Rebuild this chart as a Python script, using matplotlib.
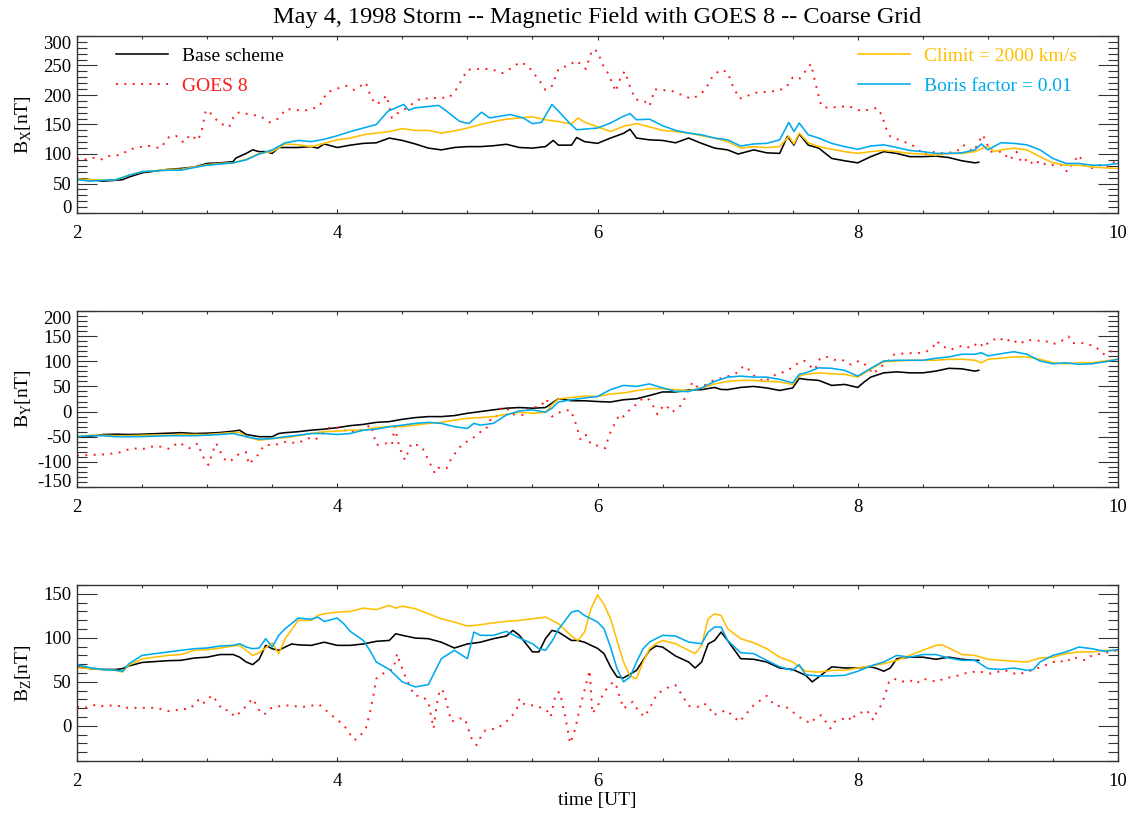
import matplotlib
matplotlib.use("Agg")
import matplotlib.pyplot as plt
from matplotlib.ticker import MultipleLocator

plt.rcParams['font.family'] = ['Liberation Serif', 'DejaVu Serif']
plt.rcParams['mathtext.fontset'] = 'custom'
plt.rcParams['mathtext.rm'] = 'Liberation Serif'
plt.rcParams['axes.unicode_minus'] = False

# colours of the four runs
c_base = 'black'
c_goes = '#ff1a1a'
c_clim = '#ffbf00'
c_boris = '#00aaee'

# ---------------- Bx panel (time [h], nT) ----------------
bx_base = [(2.0, 58), (2.1, 56.5), (2.2, 54), (2.3, 55.5), (2.35, 56.5), (2.4, 61), (2.5, 68), (2.6, 71),
           (2.7, 74), (2.8, 75.5), (2.9, 78), (3.0, 84), (3.1, 85), (3.2, 87), (3.22, 93), (3.3, 101),
           (3.35, 107), (3.4, 104), (3.45, 104), (3.5, 101), (3.55, 111), (3.6, 111), (3.7, 111),
           (3.8, 112.5), (3.85, 110), (3.9, 117), (4.0, 111), (4.1, 115), (4.2, 118), (4.3, 119),
           (4.4, 127), (4.5, 123), (4.6, 117), (4.7, 110), (4.8, 107), (4.9, 111), (5.0, 112.5),
           (5.1, 112.5), (5.2, 114), (5.3, 116.5), (5.4, 111), (5.5, 110), (5.6, 112.5), (5.66, 123),
           (5.7, 115), (5.8, 115), (5.84, 128), (5.9, 121), (6.0, 118), (6.1, 127), (6.2, 135),
           (6.25, 142), (6.3, 127), (6.4, 124), (6.5, 123), (6.6, 119), (6.7, 127), (6.8, 118),
           (6.9, 110), (7.0, 107), (7.08, 100), (7.1, 101), (7.2, 107), (7.3, 102), (7.4, 101),
           (7.46, 130), (7.51, 115), (7.55, 134), (7.62, 115), (7.7, 110), (7.8, 92.5), (7.9, 88.5),
           (8.0, 85), (8.1, 95.5), (8.2, 104), (8.3, 101), (8.4, 95.5), (8.5, 95.5), (8.6, 96.5),
           (8.7, 94), (8.8, 88.5), (8.9, 85), (8.93, 86)]
bx_goes = [(2.00, 92.6), (2.04, 88.6), (2.10, 94.3), (2.19, 90.9), (2.24, 96.6), (2.33, 98.3),
           (2.41, 108), (2.50, 112.6), (2.55, 113.7), (2.64, 109.7), (2.71, 129.7), (2.76, 130.9),
           (2.82, 119.4), (2.87, 132.6), (2.93, 122.9), (2.96, 141.1), (2.99, 174.3), (3.04, 166.9),
           (3.09, 152.6), (3.17, 145.7), (3.21, 166.9), (3.25, 170.9), (3.33, 166.9), (3.41, 164),
           (3.48, 153.7), (3.54, 159.4), (3.61, 176.6), (3.67, 174.3), (3.77, 174.3), (3.86, 180),
           (3.92, 204), (4.00, 210.9), (4.07, 215.4), (4.13, 208.6), (4.22, 221.1), (4.26, 195.4),
           (4.30, 184), (4.34, 189.7), (4.38, 199.4), (4.42, 161.1), (4.46, 168.6), (4.51, 174.3),
           (4.55, 181.1), (4.65, 195.4), (4.70, 193.7), (4.78, 195.4), (4.86, 195.4), (4.92, 210.9),
           (5.00, 242.9), (5.09, 244), (5.18, 244), (5.27, 237.1), (5.35, 246.9), (5.40, 255.4),
           (5.46, 250.9), (5.55, 225.7), (5.60, 208.6), (5.65, 215.4), (5.70, 244), (5.77, 249.7),
           (5.84, 258.3), (5.91, 244), (5.96, 277.1), (6.00, 274.3), (6.04, 251.4), (6.08, 237.1),
           (6.12, 217.1), (6.14, 205.7), (6.18, 231.4), (6.21, 240), (6.25, 214.3), (6.29, 192.6),
           (6.36, 189.7), (6.40, 181.1), (6.44, 209.7), (6.57, 206.9), (6.72, 193.7), (6.78, 199.4),
           (6.83, 209.7), (6.89, 233.7), (6.95, 242.9), (7.00, 238.3), (7.04, 215.4), (7.09, 193.7),
           (7.22, 204), (7.38, 206.9), (7.45, 212.6), (7.50, 229.7), (7.55, 226.9), (7.59, 238.3),
           (7.64, 252.6), (7.68, 215.4), (7.72, 181.1), (7.77, 178.3), (7.93, 181.1), (8.03, 172.6),
           (8.15, 178.3), (8.19, 164), (8.21, 146.9), (8.25, 129.7), (8.37, 119.4), (8.44, 112.6),
           (8.51, 98.3), (8.55, 104), (8.66, 101.1), (8.76, 104), (8.81, 115.4), (8.89, 104),
           (8.96, 132.6), (8.98, 124), (9.02, 104), (9.11, 104), (9.17, 89.7), (9.22, 104),
           (9.26, 85.1), (9.31, 92.6), (9.35, 81.1), (9.40, 88.6), (9.45, 81.1), (9.57, 81.1),
           (9.61, 69.7), (9.65, 84), (9.70, 98.3), (9.74, 81.1), (9.79, 75.4), (9.86, 81.1),
           (9.91, 77.1), (9.96, 86.9), (10.00, 81.1)]
bx_clim = [(2.0, 58), (2.1, 56.5), (2.2, 55.5), (2.3, 56.5), (2.4, 64), (2.5, 70), (2.6, 71.5), (2.7, 74),
           (2.8, 74), (2.9, 78), (3.0, 82), (3.1, 84), (3.2, 85), (3.3, 91), (3.4, 101), (3.5, 104),
           (3.6, 117), (3.7, 115.5), (3.8, 112.5), (3.9, 118), (4.0, 124), (4.1, 127), (4.2, 132.5),
           (4.3, 135.5), (4.4, 138), (4.5, 143), (4.6, 140), (4.7, 140), (4.8, 135.5), (4.9, 139),
           (5.0, 144), (5.1, 150), (5.2, 155), (5.3, 159), (5.4, 161), (5.5, 163), (5.6, 158),
           (5.7, 155), (5.8, 151), (5.85, 161), (5.9, 154), (6.0, 146), (6.1, 138), (6.2, 147),
           (6.3, 151.5), (6.4, 146), (6.5, 140), (6.6, 138), (6.7, 135.5), (6.8, 131), (6.9, 127),
           (7.0, 121), (7.1, 110), (7.2, 112.5), (7.3, 111), (7.4, 112.5), (7.47, 130), (7.51, 117),
           (7.55, 135.5), (7.62, 119), (7.7, 112.5), (7.8, 108), (7.9, 104), (8.0, 101), (8.1, 104),
           (8.2, 106), (8.3, 104), (8.4, 101), (8.5, 100), (8.6, 98), (8.7, 101), (8.8, 101),
           (8.9, 104), (9.0, 113), (9.05, 104), (9.1, 107), (9.2, 110), (9.3, 107), (9.4, 95.5),
           (9.5, 85), (9.6, 81), (9.7, 81), (9.8, 78), (9.9, 76.5), (10.0, 75.5)]
bx_boris = [(2.0, 56.5), (2.1, 54), (2.2, 55.5), (2.3, 56.5), (2.4, 64), (2.5, 70), (2.6, 71.5),
            (2.7, 72.5), (2.8, 72.5), (2.9, 77), (3.0, 81), (3.1, 83), (3.2, 85), (3.3, 90), (3.4, 100),
            (3.5, 107), (3.6, 119), (3.7, 123), (3.8, 121), (3.9, 125), (4.0, 131), (4.1, 138),
            (4.2, 144), (4.30, 150), (4.39, 172.6), (4.51, 184), (4.55, 174.3), (4.60, 178.3),
            (4.78, 182.3), (4.83, 174.3), (4.94, 155.4), (5.01, 151.4), (5.11, 170.9), (5.17, 161.1),
            (5.33, 166.9), (5.43, 161.1), (5.50, 151.4), (5.57, 153.7), (5.65, 184), (5.70, 172.6),
            (5.79, 151.4), (5.84, 141.1), (6.0, 144), (6.1, 152.5), (6.2, 164), (6.25, 168.5),
            (6.3, 158), (6.4, 159), (6.5, 148), (6.6, 140), (6.7, 135.5), (6.8, 132.5), (6.9, 127),
            (7.0, 124), (7.1, 113.5), (7.2, 117), (7.3, 118), (7.4, 124), (7.47, 153.5), (7.51, 138),
            (7.55, 152.5), (7.62, 132.5), (7.7, 127), (7.8, 118), (7.9, 112.5), (8.0, 108),
            (8.1, 113.5), (8.2, 115.5), (8.3, 111), (8.4, 106), (8.5, 104), (8.6, 101), (8.7, 101),
            (8.8, 102), (8.9, 107), (8.95, 117), (9.0, 107), (9.1, 119), (9.2, 118), (9.3, 115.5),
            (9.4, 107), (9.5, 92.5), (9.6, 84), (9.7, 84), (9.8, 81), (9.9, 81), (10.0, 84)]

# ---------------- By panel ----------------
by_base = [(2.0, -50), (2.1, -49), (2.2, -45.6), (2.3, -45), (2.4, -45.6), (2.5, -45), (2.6, -44),
           (2.7, -43), (2.8, -42), (2.9, -43.6), (3.0, -43), (3.1, -41.6), (3.2, -39), (3.25, -37),
           (3.3, -45.6), (3.4, -50), (3.5, -50), (3.55, -43.6), (3.6, -42), (3.7, -40), (3.8, -37),
           (3.9, -35), (4.0, -32), (4.1, -28), (4.2, -25.5), (4.3, -21.5), (4.4, -20), (4.5, -15.4),
           (4.6, -12), (4.7, -10), (4.8, -10), (4.9, -8), (5.0, -3.4), (5.1, 0), (5.2, 3.4),
           (5.3, 6.7), (5.4, 8), (5.5, 6.7), (5.6, 8), (5.65, 16.8), (5.7, 25.5), (5.8, 21.5),
           (5.9, 21.5), (6.0, 20), (6.1, 19), (6.2, 23.5), (6.3, 25.5), (6.4, 32), (6.5, 39),
           (6.6, 39), (6.7, 43), (6.8, 43.6), (6.9, 48), (6.95, 44), (7.0, 43.6), (7.1, 48),
           (7.2, 50), (7.3, 47), (7.4, 42), (7.5, 47), (7.55, 66), (7.6, 64), (7.7, 62), (7.8, 52),
           (7.9, 54), (8.0, 48), (8.05, 59), (8.1, 68.5), (8.2, 77), (8.3, 79), (8.4, 77), (8.5, 77),
           (8.6, 80.5), (8.7, 86), (8.8, 85), (8.9, 80.5), (8.93, 82)]
by_goes = [(2.00, -87.6), (2.10, -86.3), (2.23, -85), (2.33, -81), (2.42, -73), (2.51, -74.4),
           (2.56, -69.7), (2.65, -69.7), (2.71, -74.4), (2.78, -61.1), (2.86, -73), (2.93, -63.1),
           (2.96, -86.3), (3.01, -106.2), (3.06, -67.7), (3.07, -63.1), (3.12, -89.6), (3.15, -99.6),
           (3.19, -96.3), (3.25, -83), (3.30, -81), (3.32, -104.9), (3.39, -86.3), (3.44, -66.4),
           (3.52, -66.4), (3.61, -59.8), (3.69, -63.1), (3.78, -53.1), (3.83, -56.4), (3.89, -43.2),
           (3.94, -31.9), (4.03, -31.9), (4.08, -41.2), (4.18, -37.2), (4.26, -26.6), (4.30, -66.4),
           (4.38, -63.1), (4.42, -66.4), (4.44, -29.9), (4.48, -73), (4.52, -96.3), (4.57, -63.1),
           (4.65, -69.7), (4.70, -96.3), (4.75, -122.8), (4.78, -111.6), (4.84, -112.9),
           (4.88, -91.6), (4.96, -65.1), (5.04, -53.1), (5.11, -38.5), (5.14, -36.5), (5.18, -14.6),
           (5.22, -12), (5.26, 6.6), (5.30, 8), (5.34, -5.3), (5.43, -6.6), (5.48, 8), (5.56, 10),
           (5.61, 25.2), (5.65, -10), (5.73, 1.3), (5.79, 3.3), (5.82, -13.3), (5.84, -29.9),
           (5.87, -56.4), (5.91, -46.5), (5.95, -65.1), (6.00, -67.7), (6.06, -73), (6.09, -46.5),
           (6.13, -25.2), (6.17, -5.3), (6.20, -10), (6.23, 0), (6.27, 6.6), (6.31, 18.6),
           (6.36, 27.9), (6.40, 23.2), (6.43, 10), (6.46, -5.3), (6.51, 13.3), (6.55, 6.6),
           (6.57, -1.3), (6.61, 5.3), (6.65, 14.6), (6.69, 38.5), (6.73, 58.4), (6.76, 49.8),
           (6.83, 53.1), (6.87, 59.8), (6.95, 66.4), (7.04, 73), (7.08, 78.4), (7.11, 87.6),
           (7.15, 89.6), (7.17, 79.7), (7.21, 69.7), (7.29, 58.4), (7.33, 69.7), (7.41, 76.4),
           (7.49, 86.3), (7.55, 98.3), (7.59, 100.9), (7.63, 91.6), (7.67, 83), (7.71, 104.9),
           (7.75, 109.6), (7.82, 102.9), (7.88, 102.9), (7.95, 93), (8.01, 100.9), (8.06, 93),
           (8.12, 74.4), (8.16, 86.3), (8.23, 98.3), (8.27, 112.9), (8.37, 116.2), (8.46, 116.2),
           (8.53, 119.5), (8.58, 129.5), (8.61, 140.8), (8.63, 132.8), (8.71, 122.8), (8.81, 131.5),
           (8.87, 126.2), (8.93, 138.1), (8.97, 127.5), (9.01, 139.4), (9.09, 147.4), (9.13, 138.1),
           (9.18, 144.8), (9.24, 134.1), (9.30, 142.8), (9.37, 140.8), (9.44, 140.8), (9.50, 134.1),
           (9.56, 139.4), (9.62, 149.4), (9.65, 136.1), (9.73, 136.1), (9.83, 129.5), (9.86, 119.5),
           (9.90, 112.9), (9.94, 119.5), (10.00, 120.9)]
by_clim = [(2.0, -50), (2.1, -47), (2.2, -47), (2.3, -48), (2.4, -48), (2.5, -47), (2.6, -47), (2.7, -47),
           (2.8, -45.6), (2.9, -45.6), (3.0, -45.6), (3.1, -43.6), (3.2, -41.6), (3.25, -41.6),
           (3.3, -50), (3.4, -57), (3.5, -53.7), (3.6, -52), (3.7, -48), (3.8, -43.6), (3.9, -40),
           (4.0, -39), (4.1, -37), (4.2, -37), (4.3, -32), (4.4, -30), (4.5, -30), (4.6, -27),
           (4.7, -23.5), (4.8, -21.5), (4.9, -17), (5.0, -13.4), (5.1, -12), (5.2, -10), (5.3, -5.4),
           (5.4, -1.3), (5.5, -3.4), (5.6, -1.3), (5.65, 13.4), (5.7, 25), (5.8, 28), (5.9, 31),
           (6.0, 30), (6.1, 35), (6.2, 37), (6.3, 41.6), (6.4, 45.6), (6.5, 45.6), (6.6, 43.6),
           (6.7, 41.6), (6.8, 47), (6.9, 55), (7.0, 60), (7.1, 62), (7.2, 62), (7.3, 60), (7.4, 59),
           (7.5, 53.7), (7.55, 70.5), (7.6, 74), (7.7, 77), (7.8, 75), (7.9, 74), (8.0, 68.5),
           (8.1, 84), (8.2, 99), (8.3, 100.7), (8.4, 102), (8.5, 102), (8.6, 102), (8.7, 104),
           (8.8, 104), (8.9, 102), (8.95, 97), (9.0, 104), (9.1, 106), (9.2, 108.7), (9.3, 108.7),
           (9.4, 104), (9.5, 97), (9.6, 95), (9.7, 97), (9.8, 97), (9.9, 100.7), (10.0, 104)]
by_boris = [(2.0, -50), (2.1, -48), (2.2, -48), (2.3, -50), (2.4, -50), (2.5, -49.7), (2.6, -49),
            (2.7, -48), (2.8, -48), (2.9, -48), (3.0, -47), (3.1, -45.6), (3.2, -43.6), (3.3, -50),
            (3.4, -55), (3.5, -53.7), (3.6, -50), (3.7, -47), (3.8, -43.6), (3.9, -43.6), (4.0, -45.6),
            (4.1, -43.6), (4.2, -37), (4.3, -35), (4.4, -30), (4.5, -27), (4.6, -23.5), (4.7, -21.5),
            (4.8, -23.5), (4.9, -30), (5.0, -33.6), (5.05, -23.5), (5.1, -27), (5.2, -23.5),
            (5.3, -6.7), (5.4, 1.3), (5.5, 3.4), (5.6, -1.3), (5.65, 6.7), (5.7, 19), (5.8, 23.5),
            (5.9, 27), (6.0, 30), (6.1, 43.6), (6.2, 52), (6.3, 50), (6.4, 55), (6.5, 47), (6.6, 40),
            (6.7, 40), (6.8, 47), (6.9, 60), (7.0, 68.5), (7.1, 70.5), (7.2, 68.5), (7.3, 68.5),
            (7.4, 64), (7.5, 57), (7.55, 74), (7.6, 77), (7.7, 87), (7.8, 86), (7.9, 82), (8.0, 70.5),
            (8.1, 86), (8.2, 100.7), (8.3, 102), (8.4, 102), (8.5, 102), (8.6, 106), (8.7, 108.7),
            (8.8, 114), (8.9, 114), (8.95, 117), (9.0, 110.7), (9.1, 115), (9.2, 119), (9.3, 114),
            (9.4, 100.7), (9.5, 95), (9.6, 97), (9.7, 94), (9.8, 95), (9.9, 99), (10.0, 104)]

# ---------------- Bz panel ----------------
bz_base = [(2.0, 67), (2.1, 65), (2.2, 64), (2.3, 64), (2.35, 65), (2.4, 68), (2.5, 72), (2.6, 73),
           (2.7, 74), (2.8, 74.4), (2.9, 77), (3.0, 78), (3.1, 81), (3.2, 81), (3.25, 78), (3.3, 72.5),
           (3.35, 69.5), (3.4, 75.6), (3.45, 91.4), (3.5, 87.6), (3.55, 85.8), (3.6, 89.5),
           (3.65, 93), (3.7, 92), (3.8, 91.4), (3.9, 95), (4.0, 91.4), (4.1, 91.4), (4.2, 93),
           (4.3, 96), (4.4, 97), (4.45, 104.6), (4.5, 102.8), (4.6, 99.7), (4.7, 99), (4.8, 95),
           (4.9, 88.4), (5.0, 93), (5.1, 95), (5.2, 99), (5.3, 102), (5.35, 108.4), (5.4, 102.8),
           (5.5, 84), (5.55, 84), (5.6, 99), (5.65, 108.4), (5.7, 106.5), (5.8, 97), (5.85, 97),
           (5.9, 95), (6.0, 88), (6.05, 82), (6.1, 67), (6.15, 55.5), (6.2, 54.4), (6.3, 63),
           (6.35, 74.4), (6.4, 85.8), (6.45, 90.7), (6.5, 89.5), (6.6, 79.3), (6.7, 72.5),
           (6.75, 65.7), (6.8, 72.5), (6.85, 93), (6.9, 97), (6.95, 106.5), (7.0, 97), (7.1, 76.3),
           (7.2, 75.6), (7.3, 72.5), (7.4, 65.7), (7.5, 64), (7.6, 57.4), (7.65, 49.9), (7.7, 55.5),
           (7.8, 67), (7.9, 65.7), (8.0, 65.7), (8.1, 67), (8.15, 65), (8.2, 62), (8.25, 65.7),
           (8.3, 76.3), (8.4, 78), (8.5, 78), (8.6, 75.6), (8.7, 78), (8.8, 75.6), (8.9, 74.4),
           (8.93, 74.4)]
bz_goes = [(2.00, 21.5), (2.06, 20.4), (2.15, 24.2), (2.20, 22.3), (2.29, 23.4), (2.39, 20.4),
           (2.52, 20.4), (2.61, 20.4), (2.71, 16.6), (2.81, 18.9), (2.87, 19.6), (2.93, 29.1),
           (2.96, 24.2), (3.04, 34.8), (3.12, 17.8), (3.17, 17.8), (3.21, 10.2), (3.26, 15.9),
           (3.35, 31.0), (3.41, 15.1), (3.44, 12.8), (3.48, 19.6), (3.59, 23.4), (3.74, 21.5),
           (3.86, 24.2), (3.95, 12.8), (4.05, 0.8), (4.13, -16.2), (4.16, -14.4), (4.22, -3.0),
           (4.25, 14.0), (4.28, 36.6), (4.30, 53.6), (4.37, 61.2), (4.43, 64.2), (4.46, 82.0),
           (4.48, 72.5), (4.53, 53.6), (4.59, 34.8), (4.66, 32.9), (4.70, 27.2), (4.74, -3.0),
           (4.77, 29.1), (4.79, 41.6), (4.82, 38.5), (4.86, 14.0), (4.88, 4.5), (4.92, 8.3),
           (4.98, 8.3), (5.03, -13.6), (5.07, -21.9), (5.11, -10.6), (5.14, -4.9), (5.23, -3.0),
           (5.33, 8.3), (5.38, 19.6), (5.40, 31.0), (5.44, 24.2), (5.53, 22.7), (5.61, 17.8),
           (5.64, 10.2), (5.68, 36.6), (5.71, 38.5), (5.75, 12.1), (5.79, -20.0), (5.83, -3.0),
           (5.86, 17.8), (5.90, 40.4), (5.94, 63.1), (5.96, 14.0), (6.00, 22), (6.05, 38.5),
           (6.12, 49.9), (6.14, 48.0), (6.17, 32.9), (6.20, 19.6), (6.23, 22.7), (6.27, 27.2),
           (6.31, 17.8), (6.36, 10.2), (6.40, 19.6), (6.46, 36.6), (6.55, 44.2), (6.60, 46.1),
           (6.65, 34.8), (6.70, 22.7), (6.77, 21.5), (6.81, 25.3), (6.85, 23.4), (6.89, 12.1),
           (6.99, 17.8), (7.09, 4.5), (7.20, 23.4), (7.30, 34.0), (7.36, 23.4), (7.46, 20.4),
           (7.56, 9.1), (7.64, 2.6), (7.67, 8.3), (7.72, 12.1), (7.79, -3.0), (7.82, 4.5),
           (7.93, 10.2), (7.95, 5.3), (7.98, 12.1), (8.07, 17.8), (8.12, 6.4), (8.14, 14.0),
           (8.18, 23.4), (8.21, 34.8), (8.24, 49.9), (8.28, 53.6), (8.33, 49.9), (8.40, 51.8),
           (8.45, 48.0), (8.50, 53.6), (8.61, 49.9), (8.66, 53.6), (8.76, 56.7), (8.81, 59.3),
           (8.92, 62.0), (9.02, 59.3), (9.13, 63.1), (9.23, 58.2), (9.34, 63.1), (9.44, 68.8),
           (9.54, 74.4), (9.60, 71.8), (9.65, 78.2), (9.75, 74.4), (9.80, 80.1), (9.91, 83.1),
           (10.00, 85.8)]
bz_clim = [(2.0, 66), (2.1, 65), (2.2, 64), (2.3, 63), (2.35, 61), (2.4, 69), (2.5, 76), (2.6, 78),
           (2.7, 80), (2.8, 81), (2.9, 85.8), (3.0, 86.5), (3.1, 88.4), (3.2, 90.7), (3.25, 91.4),
           (3.3, 85.8), (3.35, 80), (3.4, 83), (3.5, 94.4), (3.55, 82), (3.6, 99), (3.7, 119.8),
           (3.8, 119.8), (3.85, 125.4), (3.9, 127.3), (4.0, 129.2), (4.1, 130), (4.2, 133.7),
           (4.3, 132), (4.4, 136.8), (4.45, 133.7), (4.5, 136), (4.6, 133), (4.7, 127.3),
           (4.8, 121.6), (4.9, 117.9), (5.0, 113.3), (5.1, 114.8), (5.2, 117), (5.3, 118.6),
           (5.4, 119.8), (5.5, 121.6), (5.6, 123.5), (5.7, 116), (5.8, 102), (5.85, 97), (5.9, 106.5),
           (5.95, 133), (6.0, 148.8), (6.05, 138), (6.1, 121.6), (6.15, 97), (6.2, 72.5),
           (6.25, 56.7), (6.3, 53.6), (6.35, 72.5), (6.4, 87.6), (6.45, 93.3), (6.5, 97),
           (6.6, 93.3), (6.7, 85.8), (6.75, 82), (6.8, 91.4), (6.85, 121.6), (6.9, 127.3),
           (6.95, 125.4), (7.0, 110.3), (7.1, 99), (7.2, 94.4), (7.3, 87.6), (7.4, 78), (7.5, 72.5),
           (7.6, 62), (7.7, 61), (7.8, 63), (7.9, 63), (8.0, 65.7), (8.1, 68), (8.2, 70.6),
           (8.3, 74.4), (8.4, 80), (8.5, 85.8), (8.6, 91.4), (8.65, 92), (8.7, 88.4), (8.8, 81),
           (8.9, 80), (9.0, 75.6), (9.1, 74.4), (9.2, 73.3), (9.3, 72.5), (9.4, 77), (9.5, 78),
           (9.6, 82), (9.7, 83.9), (9.8, 83.9), (9.9, 85.8), (10.0, 85.8)]
bz_boris = [(2.0, 69.5), (2.1, 66), (2.2, 64), (2.3, 63), (2.35, 62), (2.4, 70.6), (2.5, 80), (2.6, 82),
            (2.7, 83.9), (2.8, 85.8), (2.9, 87.6), (3.0, 88.4), (3.1, 90.7), (3.2, 91.4), (3.25, 93.3),
            (3.3, 89.5), (3.35, 87.6), (3.4, 88.4), (3.45, 99), (3.5, 89.5), (3.55, 102.8),
            (3.6, 110.3), (3.7, 122.4), (3.8, 121), (3.85, 123.5), (3.9, 118.6), (4.0, 122.4),
            (4.05, 116), (4.1, 107.3), (4.2, 97), (4.25, 85.8), (4.3, 72.5), (4.4, 64), (4.5, 49.9),
            (4.6, 44.2), (4.7, 46.8), (4.8, 76.3), (4.9, 85.8), (5.0, 76.3), (5.05, 106.5),
            (5.1, 102.8), (5.2, 102.8), (5.3, 107.3), (5.4, 99.7), (5.5, 93.3), (5.55, 87.6),
            (5.6, 85.8), (5.65, 96), (5.7, 109.6), (5.8, 129.2), (5.85, 131), (5.9, 125.4),
            (6.0, 118), (6.05, 110.3), (6.1, 89.5), (6.15, 65), (6.2, 49.9), (6.25, 55.5),
            (6.3, 72.5), (6.35, 87.6), (6.4, 95.2), (6.5, 102.8), (6.6, 102), (6.7, 95.2),
            (6.8, 93.3), (6.85, 106.5), (6.9, 112.2), (6.95, 112.2), (7.0, 97), (7.1, 83), (7.2, 82),
            (7.3, 74.4), (7.4, 67), (7.5, 63), (7.55, 69.5), (7.6, 58), (7.7, 56.7), (7.8, 56.7),
            (7.9, 57.4), (8.0, 62), (8.1, 68), (8.2, 72.5), (8.3, 80), (8.4, 78), (8.5, 81),
            (8.6, 81), (8.7, 77), (8.8, 74.4), (8.9, 74.4), (9.0, 65), (9.1, 64), (9.2, 65.7),
            (9.3, 63), (9.35, 64), (9.4, 72.5), (9.5, 80), (9.6, 83.9), (9.7, 89.5), (9.8, 87.6),
            (9.9, 84.6), (10.0, 86.5)]

panels = [
    ('B$_{\\rm X}$[nT]', (0, 300), range(0, 301, 50), bx_base, bx_goes, bx_clim, bx_boris),
    ('B$_{\\rm Y}$[nT]', (-150, 200), range(-150, 201, 50), by_base, by_goes, by_clim, by_boris),
    ('B$_{\\rm Z}$[nT]', (-40, 160), range(0, 151, 50), bz_base, bz_goes, bz_clim, bz_boris),
]
labels = ['Base scheme', 'GOES 8', 'Climit = 2000 km/s', 'Boris factor = 0.01']

W, H = 1133, 814
fig = plt.figure(figsize=(W / 100, H / 100), dpi=100)
boxes = [(36, 213), (311, 487), (585, 761)]
x0, x1 = 77, 1118
dotted = (0, (1, 3.3))

axes = []
for (top, bot), (ylab, ylim, yt, base, goes, clim, boris) in zip(boxes, panels):
    ax = fig.add_axes([x0 / W, 1 - bot / H, (x1 - x0) / W, (bot - top) / H])
    axes.append(ax)
    for data, col, ls in [(base, c_base, '-'), (goes, c_goes, dotted),
                          (clim, c_clim, '-'), (boris, c_boris, '-')]:
        t = [p[0] for p in data]
        v = [p[1] for p in data]
        ax.plot(t, v, color=col, linestyle=ls, lw=1.4 if ls == dotted else 1.15)
    ax.set_xlim(2, 10)
    ax.set_ylim(*ylim)
    ax.set_xticks([2, 4, 6, 8, 10])
    ax.xaxis.set_minor_locator(MultipleLocator(0.5))
    ax.set_yticks(list(yt))
    ax.yaxis.set_minor_locator(MultipleLocator(10))
    ax.tick_params(which='both', direction='in', top=True, right=True, width=0.8,
                   color='#333333', labelsize=13.5)
    ax.tick_params(axis='y', which='major', length=14.5, pad=4)
    ax.tick_params(axis='y', which='minor', length=7.2)
    ax.tick_params(axis='x', which='major', length=3, pad=9)
    ax.tick_params(axis='x', which='minor', length=2.2)
    for s in ax.spines.values():
        s.set_linewidth(1.0)
        s.set_color('#333333')
    ax.set_ylabel(ylab, fontsize=14)
    ax.yaxis.set_label_coords(-0.041, 0.5)
    # end labels sit inside the frame, as in the original
    ticks = ax.yaxis.get_major_ticks()
    if yt[0] == ylim[0]:
        ticks[0].label1.set_va('baseline')
    if yt[-1] == ylim[1]:
        ticks[-1].label1.set_va('top')

ax1 = axes[0]
h = ax1.get_lines()
leg_kw = dict(loc='upper left', frameon=False, fontsize=14, handlelength=2.7, handletextpad=0.7,
              labelspacing=0.62, borderpad=0, borderaxespad=0, labelcolor='linecolor')
leg1 = ax1.legend([h[0], h[1]], labels[:2], bbox_to_anchor=(0.037, 0.935), **leg_kw)
ax1.add_artist(leg1)
ax1.legend([h[2], h[3]], labels[2:], bbox_to_anchor=(0.75, 0.935), **leg_kw)

fig.text(0.5274, 1 - 18 / H, 'May 4, 1998 Storm -- Magnetic Field with GOES 8 -- Coarse Grid',
         ha='center', va='center', fontsize=17.5)
fig.text(0.5274, 1 - 800 / H, 'time [UT]', ha='center', va='center', fontsize=14)

fig.savefig('out.png', dpi=100)
